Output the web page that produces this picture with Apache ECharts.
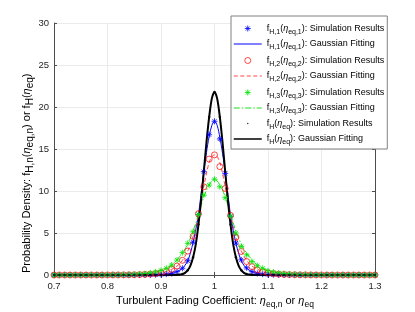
<!DOCTYPE html>
<html>
<head>
<meta charset="utf-8">
<script src="https://cdn.jsdelivr.net/npm/echarts@6/dist/echarts.min.js"></script>
<style>html,body{margin:0;padding:0;background:#fff;}#c{width:415px;height:312px;}</style>
</head>
<body>
<div id="c"></div>
<script>
// Marker positions (simulation results)
const markerX = [0.70,0.71,0.72,0.73,0.74,0.75,0.76,0.77,0.78,0.79,0.80,0.81,0.82,0.83,0.84,0.85,0.86,0.87,0.88,0.89,0.90,0.91,0.92,0.93,0.94,0.95,0.96,0.97,0.98,0.99,1.00,1.01,1.02,1.03,1.04,1.05,1.06,1.07,1.08,1.09,1.10,1.11,1.12,1.13,1.14,1.15,1.16,1.17,1.18,1.19,1.20,1.21,1.22,1.23,1.24,1.25,1.26,1.27,1.28,1.29,1.30];
const blueSim = [0,0,0,0,0,0,0,0,0,0,0,0,0,0,0.002,0.003,0.004,0.006,0.012,0.025,0.05,0.1,0.2,0.4,0.8,1.7,3.9,7.2,12.3,16.7,18.3,
  16.2,12.1,7.0,3.8,1.8,0.85,0.4,0.2,0.1,0.05,0.025,0.012,0.006,0.004,0.003,0.002,0,0,0,0,0,0,0,0,0,0,0,0,0,0];
const redSim = [0,0,0,0,0,0,0,0,0,0,0.005,0.007,0.01,0.015,0.02,0.03,0.05,0.07,0.11,0.17,0.27,0.42,0.68,1.07,1.75,2.85,4.6,7.3,10.5,13.8,14.3,
  12.9,10.3,7.1,4.5,2.8,1.6,1.0,0.6,0.36,0.24,0.16,0.1,0.07,0.05,0.03,0.02,0.015,0.01,0.007,0.005,0,0,0,0,0,0,0,0,0,0];
const greenSim = [0,0,0,0,0,0,0.004,0.005,0.007,0.01,0.013,0.02,0.03,0.04,0.05,0.08,0.12,0.17,0.25,0.37,0.55,0.8,1.19,1.79,2.66,3.77,5.15,7.2,9.5,10.7,11.4,
  10.5,9.2,7.0,5.0,3.4,2.4,1.6,1.1,0.8,0.5,0.35,0.24,0.17,0.12,0.08,0.05,0.04,0.03,0.02,0.013,0.01,0.007,0.005,0.004,0,0,0,0,0,0];
const blackSim = [0,0,0,0,0,0,0,0,0,0,0,0,0,0,0,0,0,0,0,0,0,0,0.002,0.017,0.11,0.57,2.1,6.0,12.3,18.8,21.8,
  18.8,12.3,6.0,2.1,0.57,0.11,0.017,0.002,0,0,0,0,0,0,0,0,0,0,0,0,0,0,0,0,0,0,0,0,0,0];

// Fitted curves
const lineX = [0.70,0.76,0.80,0.82,0.84,0.85,0.86,0.87,0.88,0.89,0.90,0.91,0.92,0.925,0.93,0.935,0.94,0.945,0.95,0.955,0.96,0.965,0.97,0.975,0.98,0.985,0.99,0.995,1.00,
  1.005,1.01,1.015,1.02,1.025,1.03,1.035,1.04,1.045,1.05,1.055,1.06,1.065,1.07,1.075,1.08,1.09,1.10,1.11,1.12,1.13,1.14,1.15,1.16,1.18,1.20,1.24,1.30];
const blueFit = [0,0,0,0,0.002,0.003,0.004,0.006,0.012,0.025,0.05,0.1,0.2,0.28,0.4,0.56,0.8,1.17,1.7,2.6,3.9,5.4,7.2,9.7,12.3,14.6,16.5,17.8,18.3,
  17.8,16.4,14.5,12.2,9.6,7.1,5.3,3.8,2.6,1.7,1.15,0.8,0.56,0.4,0.28,0.2,0.1,0.05,0.025,0.012,0.006,0.004,0.003,0.002,0,0,0,0];
const redFit = [0,0.002,0.005,0.01,0.02,0.03,0.05,0.07,0.11,0.17,0.27,0.42,0.68,0.85,1.07,1.36,1.75,2.25,2.85,3.65,4.6,5.8,7.2,8.8,10.5,12.1,13.4,14.1,14.3,
  14.1,13.4,12.1,10.5,8.8,7.2,5.8,4.6,3.65,2.85,2.25,1.75,1.36,1.07,0.85,0.68,0.42,0.27,0.17,0.11,0.07,0.05,0.03,0.02,0.01,0.005,0.002,0];
const greenFit = [0,0.004,0.013,0.03,0.05,0.08,0.12,0.17,0.25,0.37,0.55,0.8,1.2,1.48,1.8,2.2,2.6,3.1,3.7,4.4,5.2,6.2,7.2,8.3,9.3,10.1,10.7,11.2,11.4,
  11.2,10.7,10.1,9.3,8.3,7.2,6.2,5.2,4.4,3.7,3.1,2.6,2.2,1.8,1.48,1.2,0.8,0.55,0.37,0.25,0.17,0.12,0.08,0.05,0.03,0.013,0.004,0];
const blackFit = [0,0,0,0,0,0,0,0,0,0,0,0,0.002,0.006,0.017,0.046,0.11,0.26,0.57,1.13,2.11,3.64,6.0,8.9,12.3,15.8,18.8,21.0,21.8,
  21.0,18.8,15.8,12.3,8.9,6.0,3.64,2.11,1.13,0.57,0.26,0.11,0.046,0.017,0.006,0.002,0,0,0,0,0,0,0,0,0,0,0,0];

const xTicks = [0.7,0.8,0.9,1.0,1.1,1.2,1.3];
const yTicks = [0,5,10,15,20,25,30];

const FONT = 'Liberation Sans, Arial, Helvetica, sans-serif';
const pair = (xs, ys) => xs.map((x, i) => [x, ys[i]]);
const STAR = 'path://M5,0L5,10M0,5L10,5M1.6,1.6L8.4,8.4M1.6,8.4L8.4,1.6';
const DOT = 'path://M0,0M10,10M3.8,5a1.2,1.2 0 1,0 2.4,0a1.2,1.2 0 1,0 -2.4,0Z';

const legendRich = {
  n: {fontSize: 9, fontFamily: FONT, color: '#000', lineHeight: 14},
  i: {fontSize: 9, fontFamily: FONT, fontStyle: 'italic', color: '#000', lineHeight: 14},
  s: {fontSize: 7, fontFamily: FONT, color: '#000', verticalAlign: 'bottom', lineHeight: 8}
};
const legendText = {
  'H1 sim': '{n|f}{s|H,1}{n|(}{i|η}{s|eq,1}{n|): Simulation Results}',
  'H1 fit': '{n|f}{s|H,1}{n|(}{i|η}{s|eq,1}{n|): Gaussian Fitting}',
  'H2 sim': '{n|f}{s|H,2}{n|(}{i|η}{s|eq,2}{n|): Simulation Results}',
  'H2 fit': '{n|f}{s|H,2}{n|(}{i|η}{s|eq,2}{n|): Gaussian Fitting}',
  'H3 sim': '{n|f}{s|H,3}{n|(}{i|η}{s|eq,3}{n|): Simulation Results}',
  'H3 fit': '{n|f}{s|H,3}{n|(}{i|η}{s|eq,3}{n|): Gaussian Fitting}',
  'H sim': '{n|f}{s|H}{n|(}{i|η}{s|eq}{n|): Simulation Results}',
  'H fit': '{n|f}{s|H}{n|(}{i|η}{s|eq}{n|): Gaussian Fitting}'
};

const titleRich = {
  n: {fontSize: 11, fontFamily: FONT, color: '#262626', lineHeight: 17},
  i: {fontSize: 11, fontFamily: FONT, fontStyle: 'italic', color: '#262626', lineHeight: 17},
  s: {fontSize: 8.5, fontFamily: FONT, color: '#262626', verticalAlign: 'bottom', lineHeight: 10}
};
const yTitleRich = {
  n: titleRich.n, i: titleRich.i,
  s: {fontSize: 10, fontFamily: FONT, color: '#262626', verticalAlign: 'bottom', lineHeight: 11}
};

const starSeries = (name, ys, color) => ({
  name, type: 'scatter', data: pair(markerX, ys), symbol: STAR, symbolSize: 6,
  itemStyle: {color: 'none', borderColor: color, borderWidth: 1}, z: 2
});
const lineSeries = (name, ys, color, type, width) => ({
  name, type: 'line', data: pair(lineX, ys), symbol: 'none', smooth: 0.3,
  lineStyle: {color, type, width}, itemStyle: {color}, z: 2
});
const hiddenSym = {color: 'none', borderColor: 'none', opacity: 0};

const chart = echarts.init(document.getElementById('c'), null, {renderer: 'canvas'});
chart.setOption({
  animation: false,
  backgroundColor: '#fff',
  grid: {left: 54, right: 40, top: 23, bottom: 37},
  xAxis: [{
    type: 'value', min: xTicks[0], max: xTicks[xTicks.length - 1], interval: 0.1,
    axisLine: {show: true, lineStyle: {color: '#4d4d4d', width: 1}},
    axisTick: {show: true, inside: true, length: 3, lineStyle: {color: '#4d4d4d'}},
    axisLabel: {fontSize: 9.5, fontFamily: FONT, color: '#262626', margin: 6,
      formatter: v => String(Math.round(v * 10) / 10)},
    splitLine: {show: true, lineStyle: {color: '#ebebeb', width: 1}}
  }, {
    type: 'value', position: 'top', min: xTicks[0], max: xTicks[xTicks.length - 1], interval: 0.1,
    axisLine: {show: true, lineStyle: {color: '#4d4d4d', width: 1}},
    axisTick: {show: true, inside: true, length: 3, lineStyle: {color: '#4d4d4d'}},
    axisLabel: {show: false}, splitLine: {show: false}
  }],
  yAxis: [{
    type: 'value', min: yTicks[0], max: yTicks[yTicks.length - 1], interval: 5,
    axisLine: {show: true, lineStyle: {color: '#4d4d4d', width: 1}},
    axisTick: {show: true, inside: true, length: 3, lineStyle: {color: '#4d4d4d'}},
    axisLabel: {fontSize: 9.5, fontFamily: FONT, color: '#262626', margin: 5},
    splitLine: {show: true, lineStyle: {color: '#ebebeb', width: 1}}
  }, {
    type: 'value', position: 'right', min: yTicks[0], max: yTicks[yTicks.length - 1], interval: 5,
    axisLine: {show: true, lineStyle: {color: '#4d4d4d', width: 1}},
    axisTick: {show: true, inside: true, length: 3, lineStyle: {color: '#4d4d4d'}},
    axisLabel: {show: false}, splitLine: {show: false}
  }],
  legend: {
    orient: 'vertical', left: 231, top: 16,
    itemWidth: 28, itemHeight: 6, itemGap: 4.0,
    padding: [7, 3, 3, 2],
    backgroundColor: '#fff', borderColor: '#808080', borderWidth: 1,
    textStyle: {rich: legendRich},
    formatter: name => legendText[name],
    data: [
      {name: 'H1 sim', icon: STAR, itemStyle: {color: 'none', borderColor: '#0000ff', borderWidth: 1}},
      {name: 'H1 fit', itemStyle: hiddenSym, lineStyle: {color: '#0000ff', width: 1, type: 'solid'}},
      {name: 'H2 sim', icon: 'circle', itemStyle: {color: 'none', borderColor: '#ff0000', borderWidth: 0.9}},
      {name: 'H2 fit', itemStyle: hiddenSym, lineStyle: {color: '#ff3030', width: 0.9, type: [4, 2.5]}},
      {name: 'H3 sim', icon: STAR, itemStyle: {color: 'none', borderColor: '#00e600', borderWidth: 1}},
      {name: 'H3 fit', itemStyle: hiddenSym, lineStyle: {color: '#00dd00', width: 0.9, type: [6, 2, 1.5, 2]}},
      {name: 'H sim', icon: DOT, itemStyle: {color: '#000', borderWidth: 0}},
      {name: 'H fit', itemStyle: hiddenSym, lineStyle: {color: '#000', width: 1.5, type: 'solid'}}
    ]
  },
  graphic: [{
    type: 'text', x: 215, y: 301,
    style: {text: '{n|Turbulent Fading Coefficient: }{i|η}{s|eq,n}{n| or }{i|η}{s|eq}', rich: titleRich,
      align: 'center', verticalAlign: 'middle'}
  }, {
    type: 'text', x: 27, y: 273, rotation: Math.PI / 2,
    style: {text: '{n|Probability Density: f}{s|H,n}{n|(}{i|η}{s|eq,n}{n|) or f}{s|H}{n|(}{i|η}{s|eq}{n|)}', rich: yTitleRich,
      align: 'left', verticalAlign: 'middle'}
  }],
  series: [
    starSeries('H1 sim', blueSim, '#0000ff'),
    lineSeries('H1 fit', blueFit, '#0000ff', 'solid', 1),
    {name: 'H2 sim', type: 'scatter', data: pair(markerX, redSim), symbol: 'circle', symbolSize: 6,
      itemStyle: {color: 'none', borderColor: '#ff0000', borderWidth: 0.9}, z: 2},
    lineSeries('H2 fit', redFit, '#ff3030', [4, 2.5], 0.9),
    starSeries('H3 sim', greenSim, '#00e600'),
    lineSeries('H3 fit', greenFit, '#00dd00', [6, 2, 1.5, 2], 0.9),
    {name: 'H sim', type: 'scatter', data: pair(markerX, blackSim), symbol: 'circle', symbolSize: 2.5,
      itemStyle: {color: '#000'}, z: 2},
    lineSeries('H fit', blackFit, '#000000', 'solid', 2)
  ]
});
</script>
</body>
</html>
